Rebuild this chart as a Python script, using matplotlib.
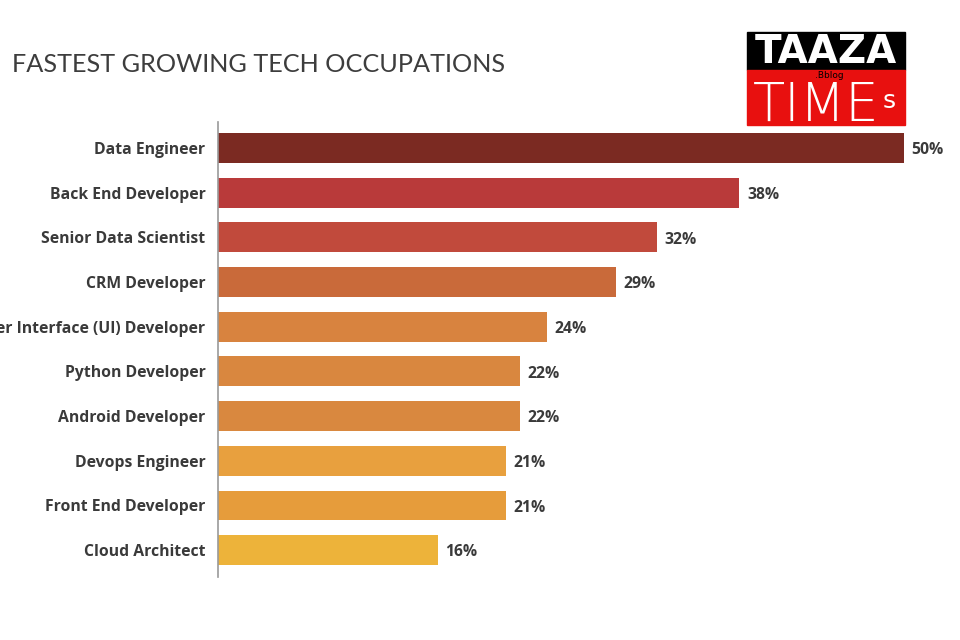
import matplotlib.pyplot as plt
from matplotlib.patches import Rectangle

occupations = ['Data Engineer', 'Back End Developer', 'Senior Data Scientist', 'CRM Developer',
               'User Interface (UI) Developer', 'Python Developer', 'Android Developer',
               'Devops Engineer', 'Front End Developer', 'Cloud Architect']
growth = [50, 38, 32, 29, 24, 22, 22, 21, 21, 16]
colors = ['#7B2A22', '#B93A3A', '#C14A3C', '#C96A3A', '#D8833F',
          '#D9873F', '#D9883F', '#E8A03E', '#E69C3B', '#EDB33A']

fig = plt.figure(figsize=(9.6, 6.4), dpi=100)
ax = fig.add_axes([218/960, 63/640, (904-218)/960, 455/640])

y = list(range(len(occupations)))
ax.barh(y, growth, height=0.67, color=colors)
ax.set_xlim(0, 50)
ax.set_ylim(9.6, -0.58)

for yi, v in zip(y, growth):
    ax.text(v + 0.55, yi + 0.05, f'{v}%', va='center', ha='left', fontsize=11.3,
            fontweight='bold', color='#3a3a3a', family='Open Sans', clip_on=False)

ax.set_yticks(y)
ax.set_yticklabels(occupations, fontsize=11.3, fontweight='bold', color='#3a3a3a', family='Open Sans')
ax.tick_params(axis='y', length=0, pad=9)
ax.set_xticks([])
for s in ['top', 'right', 'bottom']:
    ax.spines[s].set_visible(False)
ax.spines['left'].set_color('#999999')
ax.spines['left'].set_linewidth(1.2)

fig.text(12/960, 1 - 65/640, 'FASTEST GROWING TECH OCCUPATIONS', fontsize=18.2,
         color='#3d3d3d', family='Lato', va='center', ha='left')

# logo
fig.patches.append(Rectangle((747/960, 1 - 70/640), 158/960, 38/640,
                             transform=fig.transFigure, color='black', zorder=5))
fig.patches.append(Rectangle((747/960, 1 - 125/640), 158/960, 55/640,
                             transform=fig.transFigure, color='#E8100F', zorder=5))
fig.text(826/960, 1 - 52/640, 'TAAZA', fontsize=28, fontweight='bold', color='white',
         ha='center', va='center', zorder=6, family='DejaVu Sans')
fig.text(816/960, 1 - 121/640, 'TIME', fontsize=38, color='white',
         ha='center', va='baseline', zorder=6, family='DejaVu Sans', fontweight='light')
fig.text(889/960, 1 - 101/640, 's', fontsize=18, color='white',
         ha='center', va='center', zorder=6, family='DejaVu Sans')
fig.text(829/960, 1 - 76/640, '.Bblog', fontsize=6.5, color='black',
         ha='center', va='center', zorder=7, family='DejaVu Sans')

fig.savefig('out.png', dpi=100)
